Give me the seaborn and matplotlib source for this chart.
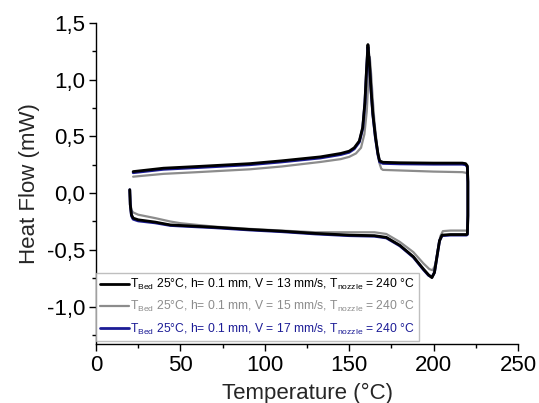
import numpy as np
import pandas as pd
import seaborn as sns
import matplotlib
matplotlib.use("Agg")
import matplotlib.pyplot as plt
from matplotlib.ticker import FuncFormatter, MultipleLocator
from matplotlib.lines import Line2D

# ---------------- data ----------------
# black: V = 13 mm/s  (heating lower branch -> vertical at 220 -> cooling upper branch)
t_black = [20.0, 20.3, 21.0, 22.0, 25.0, 35.0, 44.0, 50.0, 70.0, 91.0, 110.0, 130.0, 150.0, 165.0,
           172.0, 180.0, 188.0, 194.0, 197.0, 199.0, 200.5, 202.0, 203.5, 205.0, 210.0, 219.5,
           220.0, 220.3, 220.3, 220.0, 219.0, 217.0,
           200.0, 180.0, 170.0, 168.0, 167.0, 165.5, 164.0, 163.0, 162.0, 161.1, 160.3, 159.3,
           158.0, 156.0, 153.0, 150.0, 145.0, 133.0, 110.0, 91.0, 60.0, 40.0, 22.0]
hf_black = [0.03, -0.10, -0.19, -0.22, -0.235, -0.255, -0.28, -0.285, -0.30, -0.32, -0.335, -0.355, -0.37, -0.375,
            -0.39, -0.46, -0.56, -0.67, -0.72, -0.745, -0.70, -0.56, -0.42, -0.37, -0.365, -0.365,
            -0.36, -0.20, 0.10, 0.24, 0.26, 0.265,
            0.265, 0.268, 0.272, 0.285, 0.35, 0.50, 0.70, 0.90, 1.15, 1.31, 1.10, 0.80,
            0.58, 0.46, 0.40, 0.37, 0.35, 0.32, 0.285, 0.26, 0.235, 0.22, 0.19]

# gray: V = 15 mm/s
t_gray = [20.0, 20.3, 21.0, 22.0, 25.0, 35.0, 44.0, 50.0, 70.0, 91.0, 110.0, 130.0, 150.0, 165.0,
          172.0, 180.0, 188.0, 194.0, 197.5, 199.5, 201.0, 202.5, 204.0, 205.5, 210.0, 219.5,
          220.0, 220.3, 220.3, 220.0, 219.0, 217.0,
          200.0, 180.0, 170.0, 169.0, 168.0, 166.5, 165.0, 164.0, 163.0, 162.2, 161.4, 160.4,
          159.0, 157.0, 154.0, 150.0, 145.0, 133.0, 110.0, 91.0, 60.0, 40.0, 22.0]
hf_gray = [0.03, -0.08, -0.15, -0.17, -0.19, -0.22, -0.25, -0.265, -0.295, -0.315, -0.33, -0.345, -0.345, -0.345,
           -0.36, -0.43, -0.52, -0.62, -0.67, -0.68, -0.63, -0.50, -0.38, -0.335, -0.33, -0.33,
           -0.325, -0.18, 0.08, 0.17, 0.18, 0.185,
           0.19, 0.20, 0.205, 0.215, 0.26, 0.42, 0.62, 0.82, 1.05, 1.20, 1.00, 0.72,
           0.52, 0.40, 0.35, 0.32, 0.30, 0.275, 0.235, 0.21, 0.185, 0.17, 0.145]

# blue: V = 17 mm/s
t_blue = [20.0, 20.3, 21.0, 22.0, 25.0, 35.0, 44.0, 50.0, 70.0, 91.0, 110.0, 130.0, 150.0, 165.0,
          172.0, 180.0, 188.0, 194.0, 197.0, 199.0, 200.5, 202.0, 203.5, 205.0, 210.0, 219.5,
          220.0, 220.3, 220.3, 220.0, 219.0, 217.0,
          200.0, 180.0, 170.0, 168.0, 167.0, 165.5, 164.0, 163.0, 162.0, 161.1, 160.3, 159.3,
          158.0, 156.0, 153.0, 150.0, 145.0, 133.0, 110.0, 91.0, 60.0, 40.0, 22.0]
hf_blue = [0.03, -0.10, -0.20, -0.23, -0.245, -0.262, -0.285, -0.29, -0.305, -0.325, -0.34, -0.36, -0.375, -0.38,
           -0.395, -0.465, -0.565, -0.675, -0.725, -0.74, -0.70, -0.56, -0.42, -0.375, -0.37, -0.37,
           -0.365, -0.20, 0.10, 0.23, 0.25, 0.255,
           0.255, 0.258, 0.262, 0.275, 0.34, 0.49, 0.69, 0.89, 1.13, 1.29, 1.09, 0.79,
           0.57, 0.45, 0.39, 0.36, 0.34, 0.31, 0.275, 0.25, 0.225, 0.21, 0.18]

labels = [
    r"$\mathregular{T_{Bed}}$ 25°C, h= 0.1 mm, V = 13 mm/s, $\mathregular{T_{nozzle}}$ = 240 °C",
    r"$\mathregular{T_{Bed}}$ 25°C, h= 0.1 mm, V = 15 mm/s, $\mathregular{T_{nozzle}}$ = 240 °C",
    r"$\mathregular{T_{Bed}}$ 25°C, h= 0.1 mm, V = 17 mm/s, $\mathregular{T_{nozzle}}$ = 240 °C",
]
colors = ["#000000", "#8c8c8c", "#1c1c96"]

x_ticks = [0, 50, 100, 150, 200, 250]
y_ticks = [-1.0, -0.5, 0.0, 0.5, 1.0, 1.5]

# ---------------- plotting ----------------
sns.set_style("ticks")
plt.rcParams["font.family"] = ["Liberation Sans", "DejaVu Sans"]
plt.rcParams["mathtext.default"] = "regular"

fig = plt.figure(figsize=(5.39, 4.03), dpi=100)
ax = fig.add_axes([96 / 539, 1 - 344 / 403, 422 / 539, 321 / 403])

series = [(t_black, hf_black), (t_gray, hf_gray), (t_blue, hf_blue)]
zorders = [4, 2, 3]
widths = [2.0, 1.6, 2.0]
for (t, hf), lab, c, z, w in zip(series, labels, colors, zorders, widths):
    df = pd.DataFrame({"T": t, "HF": hf})
    sns.lineplot(data=df, x="T", y="HF", sort=False, estimator=None, color=c,
                 lw=w, ax=ax, zorder=z)

ax.set_xlim(0, 250)
ax.set_ylim(-1.33, 1.5)
ax.set_xticks(x_ticks)
ax.set_yticks(y_ticks)
ax.xaxis.set_minor_locator(MultipleLocator(25))
ax.yaxis.set_minor_locator(MultipleLocator(0.25))
ax.yaxis.set_major_formatter(FuncFormatter(lambda v, p: f"{v:.1f}".replace(".", ",")))
ax.xaxis.set_major_formatter(FuncFormatter(lambda v, p: f"{v:.0f}"))
ax.tick_params(axis="both", which="major", direction="out", length=5, width=1,
               labelsize=16, color="black", labelcolor="black", pad=3)
ax.tick_params(axis="both", which="minor", direction="out", length=3, width=1, color="black")
for s in ["top", "right"]:
    ax.spines[s].set_visible(False)
for s in ["left", "bottom"]:
    ax.spines[s].set_color("black")
    ax.spines[s].set_linewidth(1)

ax.set_xlabel("Temperature (°C)", fontsize=16, labelpad=5)
ax.set_ylabel("Heat Flow (mW)", fontsize=16, labelpad=5)

handles = [Line2D([], [], color=c, lw=2.0 if i != 1 else 1.6) for i, c in enumerate(colors)]
leg = ax.legend(handles, labels, loc="lower left", bbox_to_anchor=(0.0, 0.01),
                fontsize=8.7, frameon=True, fancybox=False, edgecolor="#b0b0b0",
                handlelength=2.4, handletextpad=0.1, labelspacing=0.6, borderpad=0.35,
                borderaxespad=0.0)
leg.get_frame().set_linewidth(1.0)
for txt, c in zip(leg.get_texts(), colors):
    txt.set_color(c)

fig.savefig("out.png", dpi=100)
